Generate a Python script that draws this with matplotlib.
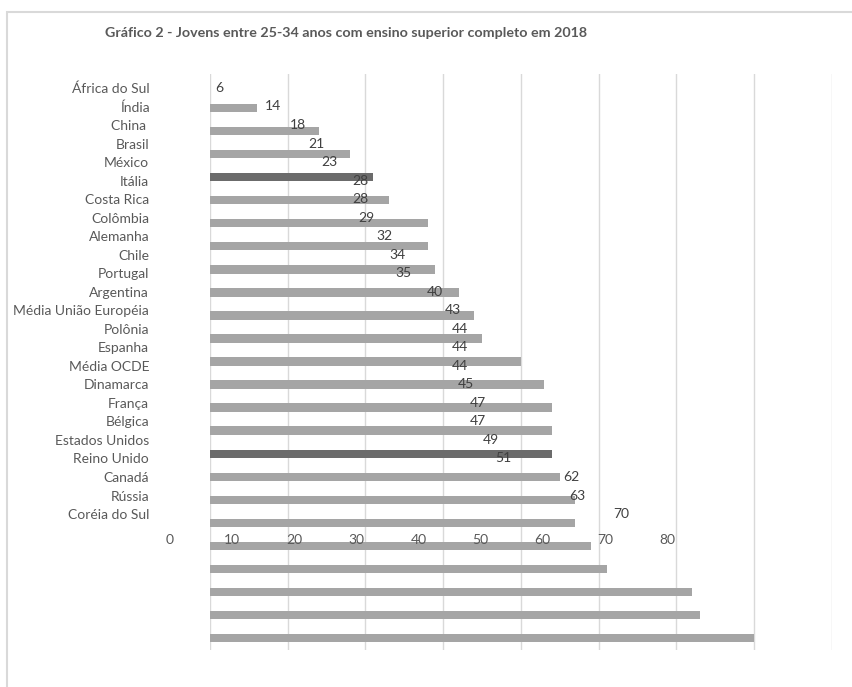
import matplotlib
matplotlib.use("Agg")
import matplotlib.pyplot as plt
from matplotlib.patches import Rectangle

plt.rcParams['font.family'] = ['Lato', 'DejaVu Sans']

title = "Gráfico 2 - Jovens entre 25-34 anos com ensino superior completo em 2018"
countries = ["África do Sul", "Índia", "China ", "Brasil", "México", "Itália",
             "Costa Rica", "Colômbia", "Alemanha", "Chile", "Portugal",
             "Argentina", "Média União Européia", "Polônia", "Espanha",
             "Média OCDE", "Dinamarca", "França", "Bélgica", "Estados Unidos",
             "Reino Unido", "Canadá", "Rússia", "Coréia do Sul"]
values = [6, 14, 18, 21, 23, 28, 28, 29, 32, 34, 35, 40, 43, 44, 44, 44,
          45, 47, 47, 49, 51, 62, 63, 70]
highlight = ["Brasil", "Média OCDE"]
x_ticks = [0, 10, 20, 30, 40, 50, 60, 70, 80]

W, H = 853, 687
fig = plt.figure(figsize=(W / 100, H / 100), dpi=100)
fig.patch.set_facecolor("white")


def px_axes(left, top, right, bottom):
    return fig.add_axes([left / W, 1 - bottom / H, (right - left) / W, (bottom - top) / H])


# outer chart frame
frame = Rectangle((7 / W, -0.1), 1.2, 1 - 12 / H + 0.1, transform=fig.transFigure,
                  fill=False, edgecolor="#d9d9d9", linewidth=1.5)
fig.add_artist(frame)

fig.text(105 / W, 1 - 33 / H, title, fontsize=10.3, fontweight="bold",
         color="#595959", ha="left", va="center")

# bar plot area
n = len(values)
colors = ["#6b6b6b" if c.strip() in highlight else "#a5a5a5" for c in countries]
axb = px_axes(210, 74, 832, 650)
axb.barh(range(n), values, height=0.36, color=colors)
axb.set_xlim(0, 80)
axb.set_ylim(n - 1 + 0.52, -(108 - 74) / 23)
axb.set_xticks(x_ticks)
axb.tick_params(length=0, labelbottom=False, labelleft=False)
axb.set_yticks([])
axb.grid(axis="x", color="#d9d9d9", linewidth=1)
axb.set_axisbelow(True)
for s in axb.spines.values():
    s.set_visible(False)
axb.patch.set_alpha(0)

# category and value labels
axl = px_axes(170, 78.7, 667, 523.3)
axl.set_xlim(0, 80)
axl.set_ylim(n - 0.5, -0.5)
axl.patch.set_alpha(0)
for s in axl.spines.values():
    s.set_visible(False)
axl.set_yticks(range(n))
axl.set_yticklabels(countries, fontsize=10, color="#595959")
axl.set_xticks(x_ticks)
axl.set_xticklabels([str(t) for t in x_ticks], fontsize=10, color="#595959")
axl.tick_params(length=0)
axl.tick_params(axis="y", pad=15)
axl.tick_params(axis="x", pad=8)
for i, v in enumerate(values):
    axl.annotate(str(v), xy=(v, i), xytext=(8, 0), textcoords="offset pixels",
                 ha="left", va="center", fontsize=10, color="#404040")

fig.savefig("out.png", dpi=100, facecolor="white")
